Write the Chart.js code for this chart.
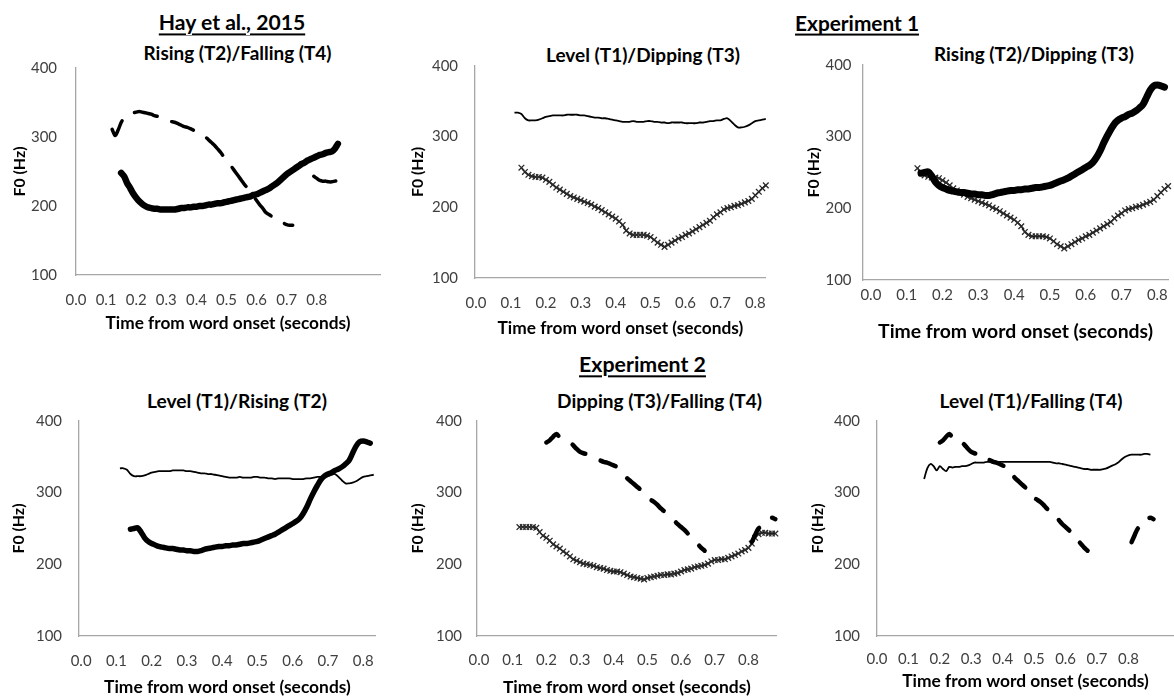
<!DOCTYPE html>
<html>
<head>
<meta charset="utf-8">
<script src="https://cdn.jsdelivr.net/npm/chart.js@4.4.1/dist/chart.umd.min.js"></script>
<style>
html,body{margin:0;padding:0;background:#fff;}
body{width:1174px;height:697px;position:relative;overflow:hidden;font-family:Lato,sans-serif;}
.lbl{position:absolute;transform:translate(-50%,-50%);white-space:nowrap;font-weight:bold;color:#000;line-height:1;font-family:Lato,sans-serif;}
.hdr{text-decoration:underline;text-decoration-thickness:1.5px;text-underline-offset:3px;}
canvas{position:absolute;}
</style>
</head>
<body>
<script>
// ---------- DATA ----------
const time = [
0.10,0.11,0.12,0.13,0.14,0.15,0.16,0.17,0.18,0.19,
0.20,0.21,0.22,0.23,0.24,0.25,0.26,0.27,0.28,0.29,
0.30,0.31,0.32,0.33,0.34,0.35,0.36,0.37,0.38,0.39,
0.40,0.41,0.42,0.43,0.44,0.45,0.46,0.47,0.48,0.49,
0.50,0.51,0.52,0.53,0.54,0.55,0.56,0.57,0.58,0.59,
0.60,0.61,0.62,0.63,0.64,0.65,0.66,0.67,0.68,0.69,
0.70,0.71,0.72,0.73,0.74,0.75,0.76,0.77,0.78,0.79,
0.80,0.81,0.82,0.83,0.84,0.85,0.86,0.87,0.88,0.89,
0.90];

// Hay et al., 2015 – Rising (T2)
const hayRising = [
null,null,null,null,null,248,243,233,226,218,
212,207,203,200,198,197,196,196,195,195,
195,195,195,195,196,197,197,198,198,199,
199,200,200,201,202,202,203,204,204,205,
206,207,208,209,210,211,212,213,214,216,
217,219,221,223,225,228,231,234,238,242,
246,249,252,255,258,261,263,266,268,270,
272,274,275,277,278,279,283,290,null,null,
null];

// Hay et al., 2015 – Falling (T4)
const hayFalling = [
null,null,311,302,310,321,328,332,334,335,
336,337,336,335,334,333,331,330,328,326,
325,323,322,321,319,317,315,314,312,310,
308,306,303,300,296,292,288,283,278,272,
266,261,255,249,243,237,231,226,220,214,
208,202,197,191,188,185,182,179,177,175,
173,172,172,null,null,null,null,null,null,243,
240,237,236,236,235,235,236,237,null,null,
null];

// Experiment 1 – Level (T1)
const exp1Level = [
null,334,334,332,326,323,323,323,324,326,
328,329,330,330,330,330,331,331,331,331,
330,330,329,328,327,327,326,326,325,324,
323,322,321,321,321,322,321,321,321,322,
322,321,321,320,320,319,320,320,320,320,
319,319,319,319,320,320,321,322,322,323,
323,325,326,322,317,313,313,314,316,319,
322,323,324,325,null,null,null,null,null,null,
null];

// Experiment 1 – Rising (T2)
const exp1Rising = [
null,null,null,null,249,250,251,245,237,232,
229,227,225,224,223,222,222,221,220,220,
219,219,218,218,219,221,222,223,224,225,
225,226,226,227,227,228,229,229,230,231,
232,234,236,238,240,242,245,248,251,254,
257,260,264,271,280,291,301,310,318,323,
326,328,331,333,336,340,345,355,365,371,
372,371,369,null,null,null,null,null,null,null,
null];

// Experiment 1 – Dipping (T3)
const exp1Dipping = [
null,null,null,256,250,246,244,243,243,242,
239,236,232,228,225,222,219,216,214,212,
210,208,206,204,201,199,196,193,190,187,
184,180,175,167,163,161,161,161,161,160,
158,154,150,147,144,147,150,153,156,158,
161,163,166,169,172,175,178,181,186,190,
193,197,199,200,202,203,205,207,209,212,
217,222,227,231,null,null,null,null,null,null,
null];

// Experiment 2 – Level (T1)
const exp2Level = [
null,null,null,null,null,319,334,340,337,331,
337,333,330,336,335,336,336,337,337,338,
340,342,342,342,342,343,343,343,343,343,
343,343,343,343,343,343,343,343,343,343,
343,343,343,343,343,343,342,341,341,340,
339,338,337,336,335,334,333,333,332,332,
332,332,333,334,336,338,340,343,347,350,
352,353,353,353,353,354,354,353,null,null,
null];

// Experiment 2 – Dipping (T3)
const exp2Dipping = [
null,null,252,252,252,252,252,251,245,240,
237,233,228,225,222,218,215,211,207,205,
203,201,200,199,198,196,195,194,192,191,
190,190,189,187,185,183,182,181,180,179,
181,182,183,184,185,185,186,186,187,188,
190,192,193,194,196,197,198,199,201,204,
206,206,207,207,209,211,213,215,218,220,
223,229,237,242,244,244,243,243,243,null,
null];

// Experiment 2 – Falling (T4)
const exp2Falling = [
null,null,null,null,null,null,null,null,null,null,
370,373,378,382,377,374,372,370,366,361,
357,355,354,353,350,347,345,343,342,340,
338,336,331,325,320,316,312,308,304,299,
293,290,287,283,278,274,270,266,261,256,
252,248,243,237,233,228,223,219,null,null,
null,null,null,null,null,null,null,null,null,null,
null,231,241,250,253,256,263,265,263,null,
null];

const xTickValues = [0.0,0.1,0.2,0.3,0.4,0.5,0.6,0.7,0.8];
const yTickValues = [100,200,300,400];

const headers = ["Hay et al., 2015", "Experiment 1", "Experiment 2"];
const subtitles = ["Rising (T2)/Falling (T4)", "Level (T1)/Dipping (T3)", "Rising (T2)/Dipping (T3)",
                   "Level (T1)/Rising (T2)", "Dipping (T3)/Falling (T4)", "Level (T1)/Falling (T4)"];
const xTitle = "Time from word onset (seconds)";
const yTitle = "F0 (Hz)";

// ---------- LAYOUT / STYLE ----------
const meas = document.createElement('canvas').getContext('2d');
function fit(text, weight, width) {
  meas.font = weight + ' 100px Lato';
  return 100 * width / meas.measureText(text).width;
}
const tickSize = fit('400', 'normal', 26);
const yTitleSize = fit(yTitle, 'bold', 50);

function addLabel(text, x, y, width, cls) {
  const d = document.createElement('div');
  d.className = 'lbl' + (cls ? ' ' + cls : '');
  d.textContent = text;
  d.style.fontSize = fit(text, 'bold', width) + 'px';
  d.style.left = x + 'px';
  d.style.top = y + 'px';
  document.body.appendChild(d);
}

addLabel(headers[0], 232, 22.5, 147, 'hdr');
addLabel(headers[1], 857, 23, 124, 'hdr');
addLabel(headers[2], 642.5, 365, 127, 'hdr');

const STY = {
  thick:  {borderColor:'#000', pointRadius:0, borderCapStyle:'round', borderJoinStyle:'round'},
  dashed: {borderColor:'#000', pointRadius:0, borderCapStyle:'round', borderJoinStyle:'round'},
  thin:   {borderColor:'#000', borderWidth:1.8, pointRadius:0},
  cross:  {borderColor:'#111', borderWidth:1.4, pointRadius:4, pointStyle:'crossRot',
           pointBorderColor:'#2a2a2a', pointBorderWidth:1.3}
};

const panels = [
  {box:[0,40,390,310], plot:[76,65,380,275], xMin:0, xMax:1.01, yGap:19, xTickY:300, xTitleY:323, yTitleX:20, xTitleW:245,
   sub:[237.5,52.5,188],
   series:[{v:hayRising, s:'thick', w:6.5}, {v:hayFalling, s:'dashed', w:3.5, dash:[23.5,15.5]}]},
  {box:[390,40,392,310], plot:[475,65,776,278], xMin:-0.003, xMax:0.83, yGap:17, xTickY:303, xTitleY:328, yTitleX:417.5, xTitleW:246,
   sub:[643,54,194],
   series:[{v:exp1Level, s:'thin'}, {v:exp1Dipping, s:'cross'}]},
  {box:[782,40,392,310], plot:[863,65,1170,280], xMin:-0.022, xMax:0.83, yGap:11.5, xTickY:295, xTitleY:332, yTitleX:814, xTitleW:275,
   sub:[1034,54,200],
   series:[{v:exp1Rising, s:'thick', w:7}, {v:exp1Dipping, s:'cross'}]},
  {box:[0,380,390,317], plot:[79,421,381,636], xMin:-0.006, xMax:0.836, yGap:17, xTickY:661, xTitleY:687, yTitleX:19, xTitleW:247,
   sub:[237,401,180],
   series:[{v:exp1Level, s:'thin'}, {v:exp1Rising, s:'thick', w:5.5}]},
  {box:[390,380,392,317], plot:[477,421,781,636], xMin:-0.006, xMax:0.884, yGap:15, xTickY:660, xTitleY:687, yTitleX:417.5, xTitleW:248,
   sub:[659.5,400.5,205],
   series:[{v:exp2Falling, s:'dashed', w:4.5, dash:[16,17]}, {v:exp2Dipping, s:'cross'}]},
  {box:[782,380,392,317], plot:[877,421,1174,636], xMin:0, xMax:0.945, yGap:17, xTickY:659, xTitleY:681, yTitleX:817.5, xTitleW:247,
   sub:[1031,401,183],
   series:[{v:exp2Level, s:'thin'}, {v:exp2Falling, s:'dashed', w:4.5, dash:[15,16]}]}
];

Chart.defaults.font.family = 'Lato';

panels.forEach((p, idx) => {
  addLabel(subtitles[idx], p.sub[0], p.sub[1], p.sub[2]);
  const [L,T,W,H] = p.box;
  const [pl,pt,pr,pb] = p.plot;
  const cv = document.createElement('canvas');
  cv.width = W; cv.height = H;
  cv.style.left = L + 'px'; cv.style.top = T + 'px';
  cv.style.width = W + 'px'; cv.style.height = H + 'px';
  document.body.appendChild(cv);

  const xTitleSize = fit(xTitle, 'bold', p.xTitleW);
  const tickLH = tickSize * 1.2;

  const datasets = p.series.map(s => {
    const d = Object.assign({}, STY[s.s]);
    if (s.w) d.borderWidth = s.w;
    if (s.dash) d.borderDash = s.dash;
    d.tension = 0.3;
    d.spanGaps = false;
    d.clip = false;
    d.data = time.map((t, i) => ({x: t, y: s.v[i]}));
    return d;
  });

  new Chart(cv, {
    type: 'line',
    data: {datasets},
    options: {
      responsive: false, animation: false, devicePixelRatio: 1,
      events: [],
      layout: {padding: {left: 0, top: pt - T, right: L + W - pr, bottom: 0}},
      plugins: {legend: {display: false}, tooltip: {enabled: false}, title: {display: false}},
      scales: {
        x: {
          type: 'linear', bounds: 'data', min: p.xMin, max: p.xMax,
          grid: {display: false, drawTicks: false, tickLength: 0},
          border: {display: true, color: '#a6a6a6', width: 1.3},
          afterBuildTicks: s => { s.ticks = xTickValues.map(v => ({value: v})); },
          afterFit: s => { s.height = T + H - pb; },
          ticks: {font: {size: tickSize}, color: '#404040', padding: p.xTickY - pb - tickLH / 2,
                  maxRotation: 0, minRotation: 0, autoSkip: false, callback: v => v.toFixed(1)},
          title: {display: true, text: xTitle, color: '#000',
                  font: {size: xTitleSize, weight: 'bold'},
                  padding: {top: 0, bottom: (T + H) - p.xTitleY - xTitleSize * 0.6}}
        },
        y: {
          type: 'linear', bounds: 'data', min: 100, max: 400,
          grid: {display: false, drawTicks: false, tickLength: 0},
          border: {display: true, color: '#a6a6a6', width: 1.3},
          afterBuildTicks: s => { s.ticks = yTickValues.map(v => ({value: v})); },
          afterFit: s => { s.width = pl - L; },
          ticks: {font: {size: tickSize}, color: '#404040', padding: p.yGap, callback: v => String(v)},
          title: {display: true, text: yTitle, color: '#000',
                  font: {size: yTitleSize, weight: 'bold'},
                  padding: {top: p.yTitleX - L - yTitleSize * 0.6, bottom: 0}}
        }
      }
    }
  });
});
</script>
</body>
</html>
